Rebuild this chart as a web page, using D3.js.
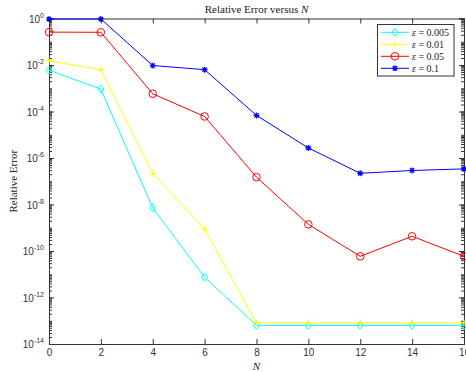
<!DOCTYPE html>
<html>
<head>
<meta charset="utf-8">
<script src="https://cdn.jsdelivr.net/npm/d3@7"></script>
<style>
  body { margin: 0; background: #fff; }
  .tick text { font-family: "Liberation Sans", Arial, sans-serif; font-size: 10px; fill: #333; }
  .serif { font-family: "Liberation Serif", "DejaVu Serif", serif; fill: #222; }
</style>
</head>
<body>
<div id="chart"></div>
<script>
// data
const N = [0, 2, 4, 6, 8, 10, 12, 14, 16];
const eps = ["0.005", "0.01", "0.05", "0.1"];
const err005 = [6e-3, 9.2e-4, 7.1e-9, 7.4e-12, 6.3e-14, 6.3e-14, 6.3e-14, 6.3e-14, 6.3e-14];
const err01 = [1.5e-2, 6.3e-3, 2.2e-7, 8.9e-10, 8.1e-14, 8.1e-14, 8.1e-14, 8.1e-14, 8.1e-14];
const err05 = [0.26, 0.255, 5.8e-4, 6.1e-5, 1.5e-7, 1.4e-9, 5.9e-11, 4.3e-10, 5.9e-11];
const err1 = [0.95, 0.95, 9.5e-3, 6.3e-3, 6.8e-5, 2.7e-6, 2.2e-7, 2.9e-7, 3.4e-7];
const yTicks = [1e0, 1e-2, 1e-4, 1e-6, 1e-8, 1e-10, 1e-12, 1e-14];

const series = [
  { eps: eps[0], values: err005, color: "#00ffff", marker: "diamond" },
  { eps: eps[1], values: err01, color: "#ffff00", marker: "plus" },
  { eps: eps[2], values: err05, color: "#ff0000", marker: "circle" },
  { eps: eps[3], values: err1, color: "#0000ff", marker: "star" }
];

const width = 466, height = 372;
const margin = { top: 18.5, left: 49, right: 2, bottom: 28 };

const svg = d3.select("#chart").append("svg")
  .attr("width", width).attr("height", height);

const xScale = d3.scaleLinear().domain([0, 16]).range([margin.left, width - margin.right]);
const yScale = d3.scaleLog().domain([1e-14, 1]).range([height - margin.bottom, margin.top]);

// minor ticks for the log axis
const minor = [];
for (let e = -14; e < 0; e++) {
  for (let k = 1; k <= 9; k++) minor.push(k * Math.pow(10, e));
}

// axes
svg.append("g").attr("class", "axis")
  .attr("transform", `translate(0,${height - margin.bottom})`)
  .call(d3.axisBottom(xScale).tickValues(N).tickSize(-5).tickPadding(5).tickFormat(d => d));
svg.append("g").attr("class", "axis")
  .attr("transform", `translate(0,${margin.top})`)
  .call(d3.axisTop(xScale).tickValues(N).tickSize(-5).tickFormat(""));

svg.append("g").attr("class", "axis")
  .attr("transform", `translate(${margin.left},0)`)
  .call(d3.axisLeft(yScale).tickValues(minor).tickSize(-3).tickFormat(""));
svg.append("g").attr("class", "axis")
  .attr("transform", `translate(${width - margin.right},0)`)
  .call(d3.axisRight(yScale).tickValues(minor).tickSize(-3).tickFormat(""));
svg.append("g").attr("class", "axis")
  .attr("transform", `translate(${margin.left},0)`)
  .call(d3.axisLeft(yScale).tickValues(yTicks).tickSize(-5).tickFormat(""));
svg.append("g").attr("class", "axis")
  .attr("transform", `translate(${width - margin.right},0)`)
  .call(d3.axisRight(yScale).tickValues(yTicks).tickSize(-5).tickFormat(""));

svg.selectAll(".axis path.domain").attr("stroke", "#333").attr("stroke-width", 1);
svg.selectAll(".axis .tick line").attr("stroke", "#333");

// y tick labels: 10 with superscript
yTicks.forEach(function(t) {
  const e = Math.round(Math.log10(t));
  const lab = svg.append("text")
    .attr("x", margin.left - 5)
    .attr("y", yScale(t) + 4)
    .attr("text-anchor", "end")
    .style("font-family", "Liberation Sans, Arial, sans-serif")
    .style("font-size", "10px")
    .attr("fill", "#333");
  lab.append("tspan").text("10");
  lab.append("tspan").attr("dy", -5).style("font-size", "7px").text(e);
});

// lines
const line = d3.line()
  .x(function(d, i) { return xScale(N[i]); })
  .y(function(d) { return yScale(d); });

function drawMarker(g, type, color, x, y) {
  if (type === "diamond") {
    g.append("path").attr("d", `M${x},${y - 4}L${x + 3},${y}L${x},${y + 4}L${x - 3},${y}Z`)
      .attr("fill", "none").attr("stroke", color).attr("stroke-width", 1);
  } else if (type === "plus") {
    g.append("path").attr("d", `M${x - 3.5},${y}H${x + 3.5}M${x},${y - 3.5}V${y + 3.5}`)
      .attr("stroke", color).attr("stroke-width", 1);
  } else if (type === "circle") {
    g.append("circle").attr("cx", x).attr("cy", y).attr("r", 3.8)
      .attr("fill", "none").attr("stroke", color).attr("stroke-width", 1);
  } else {
    g.append("path").attr("d", `M${x - 3},${y}H${x + 3}M${x},${y - 3}V${y + 3}M${x - 2.2},${y - 2.2}L${x + 2.2},${y + 2.2}M${x - 2.2},${y + 2.2}L${x + 2.2},${y - 2.2}`)
      .attr("stroke", color).attr("stroke-width", 1.2);
    g.append("circle").attr("cx", x).attr("cy", y).attr("r", 1.6).attr("fill", color);
  }
}

series.forEach(function(s) {
  svg.append("path")
    .datum(s.values)
    .attr("d", line)
    .attr("fill", "none")
    .attr("stroke", s.color)
    .attr("stroke-width", 1);
  const g = svg.append("g");
  s.values.forEach(function(v, i) {
    drawMarker(g, s.marker, s.color, xScale(N[i]), yScale(v));
  });
});

// title and labels
const title = svg.append("text").attr("class", "serif")
  .attr("x", (margin.left + width - margin.right) / 2).attr("y", 13)
  .attr("text-anchor", "middle").style("font-size", "11px");
title.append("tspan").text("Relative Error versus ");
title.append("tspan").style("font-style", "italic").text("N");

svg.append("text").attr("class", "serif")
  .attr("x", xScale(8)).attr("y", 370)
  .attr("text-anchor", "middle").style("font-size", "11px").style("font-style", "italic")
  .text("N");

svg.append("text").attr("class", "serif")
  .attr("transform", "rotate(-90)")
  .attr("x", -yScale(1e-7)).attr("y", 17)
  .attr("text-anchor", "middle").style("font-size", "11px")
  .text("Relative Error");

// legend
const legend = svg.append("g");
legend.append("rect")
  .attr("x", 377.5).attr("y", 24.5).attr("width", 76.5).attr("height", 51.5)
  .attr("fill", "#fff").attr("stroke", "#333").attr("stroke-width", 1);
series.forEach(function(s, i) {
  const y = 32.3 + i * 12;
  legend.append("line").attr("x1", 381).attr("x2", 409).attr("y1", y).attr("y2", y)
    .attr("stroke", s.color).attr("stroke-width", 1);
  drawMarker(legend, s.marker, s.color, 395, y);
  const t = legend.append("text").attr("class", "serif")
    .attr("x", 412).attr("y", y + 3.5).style("font-size", "10px");
  t.append("tspan").style("font-style", "italic").text("ε");
  t.append("tspan").text(" = " + s.eps);
});
</script>
</body>
</html>
